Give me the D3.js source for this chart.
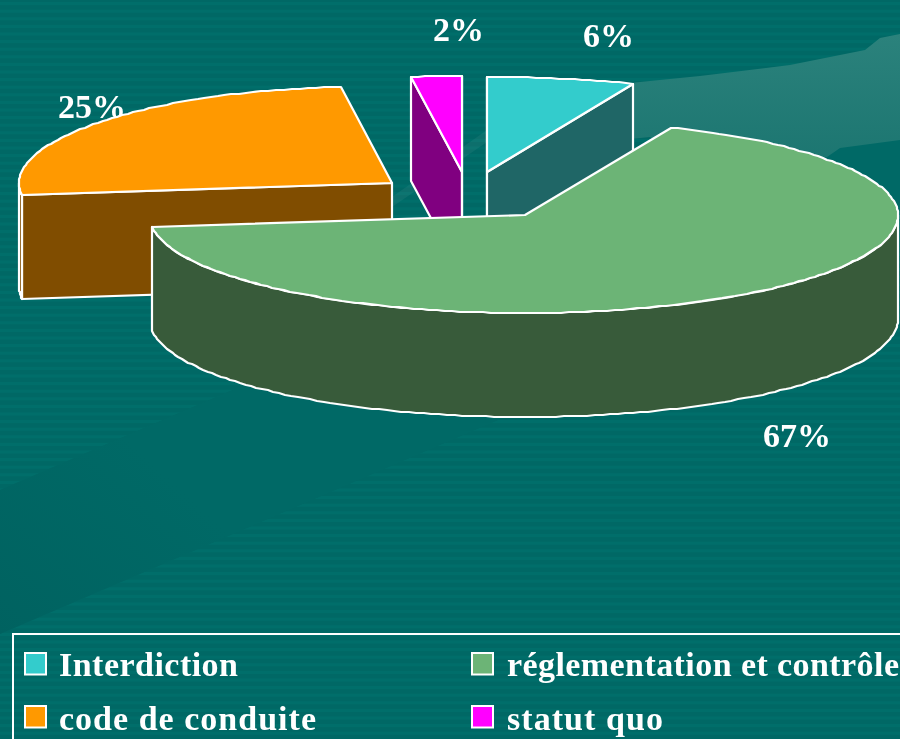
<!DOCTYPE html>
<html><head><meta charset="utf-8">
<script src="https://cdn.jsdelivr.net/npm/d3@7/dist/d3.min.js"></script>
<style>html,body{margin:0;padding:0;background:#006865;overflow:hidden}svg{display:block}
text{font-family:"Liberation Serif",serif;font-weight:700;fill:#fff}</style></head><body>
<svg id="c" width="900" height="739"></svg>
<script>
// ---- data ----
const categories = ["Interdiction","réglementation et contrôle","code de conduite","statut quo"];
const values = [6,67,25,2];
const topColors = ["#33cccc","#6cb476","#ff9900","#ff00ff"];
const sideColors = ["#1f6666","#385b3a","#804d00","#800080"];
const valueLabels = ["6%","67%","25%","2%"];

// ---- layout ----
const W=900,H=739, RX=373, RY_BOTTOM=98, DEPTH=104;
const apexes = new Map([["Interdiction",[487,172]],["réglementation et contrôle",[525,215]],["code de conduite",[392,183]],["statut quo",[462,172]]]);
const ryTop = new Map([["Interdiction",95],["réglementation et contrôle",94],["code de conduite",97],["statut quo",96]]);
const leftBulge = new Map([["réglementation et contrôle",1.008]]);
const labelPos = new Map([["6%",[583,47]],["67%",[763,447]],["25%",[58,118]],["2%",[433,41]]]);
const legendWidths = new Map([["Interdiction",179],["réglementation et contrôle",392],["code de conduite",257],["statut quo",156]]);
const paintOrder = ["code de conduite","statut quo","Interdiction","réglementation et contrôle"];

const svg=d3.select("#c");
const defs=svg.append("defs");
const sw=defs.append("linearGradient").attr("id","sw").attr("x1",0).attr("y1",0).attr("x2",0).attr("y2",1);
sw.append("stop").attr("offset",0).attr("stop-color","#2b827c");
sw.append("stop").attr("offset",1).attr("stop-color","#1b7570");
const ll=defs.append("linearGradient").attr("id","ll").attr("gradientUnits","userSpaceOnUse").attr("x1",0).attr("y1",640).attr("x2",160).attr("y2",470);
ll.append("stop").attr("offset",0).attr("stop-color","#006260");
ll.append("stop").attr("offset",1).attr("stop-color","#006966");
defs.append("filter").attr("id","soft").append("feGaussianBlur").attr("stdDeviation",0.35);
const bandPts=[[0,490],[900,103],[900,247],[0,634]];
defs.append("clipPath").attr("id","nb").append("path").attr("clip-rule","evenodd")
  .attr("d",`M0,0H${W}V${H}H0Z`+d3.line()(bandPts)+"Z");

// background
svg.append("rect").attr("width",W).attr("height",H).attr("fill","#006865");
const stripeG=svg.append("g").attr("clip-path","url(#nb)");
stripeG.selectAll("rect").data(d3.range(2,H,7.6)).join("rect")
  .attr("x",0).attr("width",W).attr("y",d=>d).attr("height",3.2).attr("fill","#006e6a");
svg.append("path").attr("d",d3.line()(bandPts)+"Z").attr("fill","url(#ll)");
svg.append("path").attr("d",d3.line()([[392,197],[487,130],[487,142],[392,207]])+"Z").attr("fill","#fff").attr("opacity",.05);
const swoosh=[[620,84],[700,76],[790,65],[865,50],[880,38],[900,34],[900,140],[840,148],[827,157],[700,170],[650,137],[620,140]];
svg.append("path").attr("d",d3.line()(swoosh)+"Z").attr("fill","url(#sw)");

// value labels (behind the slices, as in the picture)
svg.append("g").attr("filter","url(#soft)").selectAll("text").data(valueLabels).join("text")
  .attr("x",d=>labelPos.get(d)[0]).attr("y",d=>labelPos.get(d)[1])
  .attr("font-size",34).text(d=>d);

// pie geometry
const arcs=d3.pie().sort(null).value((d,i)=>values[i]).startAngle(0).endAngle(2*Math.PI)(categories);
const topColor=d3.scaleOrdinal(categories,topColors), sideColor=d3.scaleOrdinal(categories,sideColors);
function project(cat,a,dz=0){
  const [cx,cy]=apexes.get(cat);
  const s=Math.sin(a),c=Math.cos(a);
  const warp=1+0.1*Math.pow(Math.max(0,c),6);
  const bulge=s<0?(leftBulge.get(cat)||1):1;
  return [Math.round(cx+RX*s*warp*bulge), Math.round(cy-(c>0?ryTop.get(cat):RY_BOTTOM)*c+dz)];
}
const samples=(a0,a1)=>{const n=Math.max(1,Math.ceil((a1-a0)/(1.2*Math.PI/180)));return d3.range(n+1).map(i=>a0+(a1-a0)*i/n);};
const line=d3.line();
const byCat=new Map(arcs.map(d=>[d.data,d]));
const pie=svg.append("g").attr("stroke","#fff").attr("stroke-width",2.2).attr("stroke-linejoin","round");
paintOrder.forEach(cat=>{
  const d=byCat.get(cat), A=apexes.get(cat), g=pie.append("g");
  const side=sideColor(cat);
  const face=a=>{const p=project(cat,a);
    g.append("path").attr("fill",side).attr("d",line([p,A,[A[0],A[1]+DEPTH],[p[0],p[1]+DEPTH]])+"Z");};
  if(Math.sin(d.startAngle)<=1e-9) face(d.startAngle);
  if(Math.sin(d.endAngle)>=-1e-9) face(d.endAngle);
  const w0=Math.max(d.startAngle,Math.PI/2), w1=Math.min(d.endAngle,3*Math.PI/2);
  if(w1>w0){
    const ss=samples(w0,w1);
    g.append("path").attr("fill",side).attr("d",line(ss.map(a=>project(cat,a)).concat(ss.slice().reverse().map(a=>project(cat,a,DEPTH))))+"Z");
  }
  g.append("path").attr("fill",topColor(cat))
    .attr("d",line([A].concat(samples(d.startAngle,d.endAngle).map(a=>project(cat,a))))+"Z");
});

// legend
const lg=svg.append("g");
lg.append("path").attr("fill","none").attr("stroke","#fff").attr("stroke-width",2).attr("d","M900,634H13V739");
const colX=d3.scaleOrdinal([0,1],[25,472]), rowY=d3.scaleOrdinal([0,1],[653,706]);
const item=lg.selectAll("g").data(categories).join("g")
  .attr("transform",(d,i)=>`translate(${colX(i%2)},${rowY(i<2?0:1)})`);
item.append("rect").attr("width",21).attr("height",21.5).attr("fill",d=>topColor(d)).attr("stroke","#fff").attr("stroke-width",2);
item.append("text").attr("x",(d,i)=>i%2?35:34).attr("y",(d,i)=>i<2?23:24).attr("font-size",34)
  .attr("filter","url(#soft)")
  .attr("textLength",d=>legendWidths.get(d)).attr("lengthAdjust","spacing").text(d=>d);
</script></body></html>
